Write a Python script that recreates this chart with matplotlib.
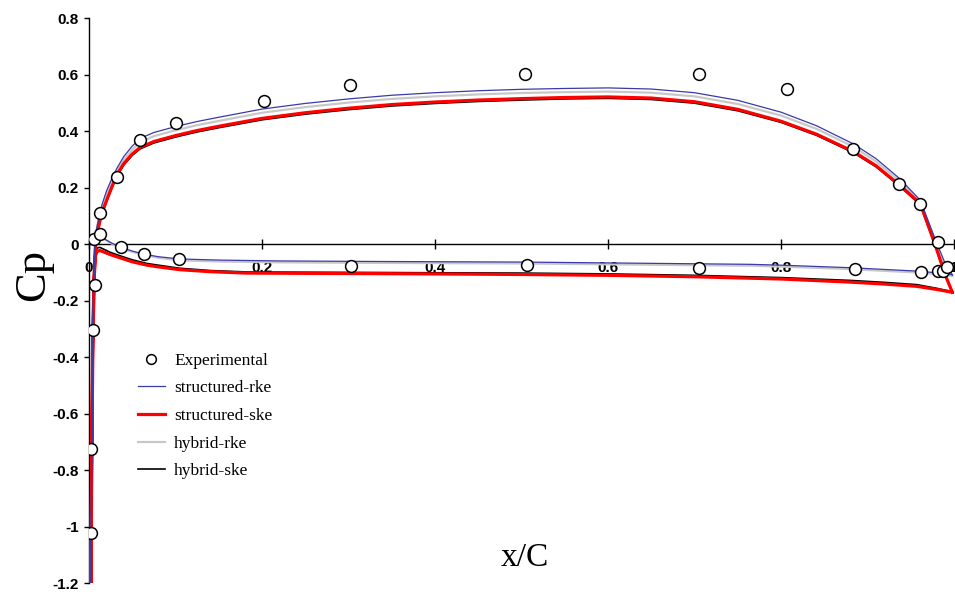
import matplotlib
matplotlib.use("Agg")
import matplotlib.pyplot as plt
from matplotlib.lines import Line2D

# Experimental pressure taps
exp_x = [0.006, 0.0127, 0.0127, 0.032, 0.059, 0.100, 0.202, 0.302, 0.504, 0.705,
         0.807, 0.883, 0.936, 0.961, 0.982,
         0.0366, 0.064, 0.104, 0.3025, 0.506, 0.705, 0.886, 0.962, 0.982, 0.987, 0.992,
         0.0069, 0.0043, 0.0023, 0.0023]
exp_cp = [0.020, 0.035, 0.112, 0.239, 0.369, 0.428, 0.508, 0.566, 0.603, 0.602,
          0.550, 0.338, 0.215, 0.144, 0.008,
          -0.0096, -0.033, -0.052, -0.077, -0.072, -0.083, -0.086, -0.099, -0.096, -0.095, -0.080,
          -0.145, -0.302, -0.724, -1.024]

# lower branch, trailing edge -> leading edge
low_ske_x = [0.998, 0.98, 0.957, 0.92, 0.88, 0.8, 0.7, 0.6, 0.5, 0.4, 0.336, 0.25, 0.182,
             0.14, 0.105, 0.08, 0.067, 0.05, 0.036, 0.025, 0.016, 0.0127, 0.0095, 0.0075,
             0.006, 0.0045, 0.003, 0.002]
low_sske = [-0.17, -0.16, -0.149, -0.141, -0.134, -0.123, -0.115, -0.110, -0.107, -0.105,
            -0.104, -0.103, -0.102, -0.097, -0.090, -0.080, -0.074, -0.062, -0.048, -0.037,
            -0.026, -0.022, -0.025, -0.04, -0.12, -0.35, -0.85, -1.3]
low_hske = [-0.168, -0.156, -0.143, -0.135, -0.128, -0.118, -0.110, -0.105, -0.102, -0.101,
            -0.100, -0.099, -0.098, -0.093, -0.085, -0.074, -0.068, -0.055, -0.041, -0.029,
            -0.016, -0.011, -0.013, -0.03, -0.11, -0.33, -0.85, -1.3]

low_rke_x = [0.998, 0.98, 0.957, 0.88, 0.8, 0.764, 0.6, 0.5, 0.336, 0.22, 0.15, 0.105, 0.08,
             0.064, 0.05, 0.036, 0.027, 0.02, 0.015, 0.012, 0.009, 0.007, 0.0055, 0.004,
             0.003, 0.002]
low_srke = [-0.108, -0.101, -0.095, -0.083, -0.074, -0.071, -0.066, -0.063, -0.061, -0.059,
            -0.056, -0.052, -0.044, -0.035, -0.024, -0.010, 0.003, 0.015, 0.024, 0.030,
            0.027, 0.0, -0.12, -0.45, -0.85, -1.3]
low_hrke = [-0.112, -0.106, -0.1, -0.088, -0.079, -0.076, -0.071, -0.068, -0.066, -0.064,
            -0.061, -0.057, -0.048, -0.038, -0.027, -0.013, 0.001, 0.014, 0.024, 0.032,
            0.030, 0.005, -0.11, -0.42, -0.85, -1.3]

# upper branch, leading edge -> trailing edge
up_x = [0.0028, 0.004, 0.0055, 0.0068, 0.0078, 0.009, 0.0127, 0.016, 0.0204, 0.026,
        0.032, 0.04, 0.05, 0.059, 0.075, 0.1, 0.125, 0.15, 0.2, 0.25,
        0.3, 0.35, 0.4, 0.45, 0.5, 0.55, 0.6, 0.65, 0.7, 0.75,
        0.8, 0.841, 0.884, 0.91, 0.937, 0.961, 0.978, 0.99, 0.998]
up_sske = [-0.85, -0.4, -0.15, -0.04, 0.0, 0.03, 0.085, 0.12, 0.156, 0.20,
           0.245, 0.285, 0.32, 0.343, 0.364, 0.385, 0.403, 0.418, 0.446, 0.466,
           0.482, 0.495, 0.504, 0.511, 0.516, 0.52, 0.522, 0.518, 0.505, 0.478,
           0.436, 0.39, 0.328, 0.278, 0.21, 0.144, 0.0, -0.11, -0.17]
up_srke = [-0.82, -0.36, -0.11, 0.0, 0.035, 0.06, 0.115, 0.15, 0.19, 0.23,
           0.268, 0.31, 0.348, 0.375, 0.396, 0.417, 0.435, 0.45, 0.479, 0.499,
           0.515, 0.528, 0.537, 0.544, 0.549, 0.552, 0.554, 0.55, 0.537, 0.51,
           0.468, 0.42, 0.355, 0.303, 0.233, 0.156, 0.02, -0.07, -0.108]
up_hrke = [-0.83, -0.38, -0.12, -0.01, 0.03, 0.055, 0.107, 0.142, 0.18, 0.22,
           0.257, 0.298, 0.335, 0.362, 0.383, 0.404, 0.422, 0.437, 0.466, 0.486,
           0.502, 0.515, 0.524, 0.531, 0.536, 0.539, 0.541, 0.537, 0.524, 0.497,
           0.456, 0.409, 0.345, 0.293, 0.224, 0.15, 0.01, -0.085, -0.112]
up_hske = [-0.87, -0.42, -0.16, -0.05, -0.005, 0.025, 0.08, 0.115, 0.152, 0.196,
           0.24, 0.28, 0.315, 0.338, 0.359, 0.38, 0.398, 0.413, 0.441, 0.461,
           0.477, 0.49, 0.499, 0.506, 0.511, 0.515, 0.517, 0.513, 0.5, 0.473,
           0.432, 0.386, 0.324, 0.274, 0.206, 0.14, -0.004, -0.112, -0.168]

fig, ax = plt.subplots(figsize=(9.55, 5.92), dpi=100)
fig.subplots_adjust(left=0.0932, right=0.999, bottom=0.0152, top=0.9688)

ax.plot(low_ske_x + up_x, low_hske + up_hske, color="black", lw=1.2, zorder=2)
ax.plot(low_rke_x + up_x, low_hrke + up_hrke, color="#c8c8c8", lw=1.6, zorder=3)
ax.plot(low_ske_x + up_x, low_sske + up_sske, color="#ff0000", lw=2.3, zorder=4)
ax.plot(low_rke_x + up_x, low_srke + up_srke, color="#3a3aa8", lw=0.9, zorder=5)
ax.plot(exp_x, exp_cp, "o", ms=8.5, mfc="white", mec="black", mew=1.1, zorder=6)

ax.set_xlim(0, 1)
ax.set_ylim(-1.2, 0.8)
ax.set_xticks([0, 0.2, 0.4, 0.6, 0.8, 1.0])
ax.set_xticklabels(["0", "0.2", "0.4", "0.6", "0.8", "1"])
ax.set_yticks([-1.2, -1, -0.8, -0.6, -0.4, -0.2, 0, 0.2, 0.4, 0.6, 0.8])
ax.set_yticklabels(["-1.2", "-1", "-0.8", "-0.6", "-0.4", "-0.2", "0", "0.2", "0.4", "0.6", "0.8"])

ax.spines["top"].set_visible(False)
ax.spines["right"].set_visible(False)
ax.spines["bottom"].set_position(("data", 0))
for s in ("left", "bottom"):
    ax.spines[s].set_linewidth(1.0)

ax.tick_params(axis="x", direction="inout", length=6.5, width=1.0, pad=9)
ax.tick_params(axis="y", direction="out", length=3.5, width=1.0, pad=4)
for lab in ax.get_xticklabels() + ax.get_yticklabels():
    lab.set_fontfamily("Liberation Sans")
    lab.set_fontweight("bold")
    lab.set_fontsize(11)

ax.set_xlabel("x/C", fontfamily="Liberation Serif", fontsize=24, va="center")
ax.xaxis.set_label_coords(0.504, 0.044)
ax.set_ylabel("Cp", fontfamily="Liberation Serif", fontsize=32, va="center")
ax.yaxis.set_label_coords(-0.065, 0.546)

handles = [
    Line2D([], [], ls="none", marker="o", ms=7, mfc="white", mec="black", mew=1.1),
    Line2D([], [], color="#3a3aa8", lw=0.9),
    Line2D([], [], color="#ff0000", lw=2.3),
    Line2D([], [], color="#c8c8c8", lw=1.6),
    Line2D([], [], color="black", lw=1.2),
]
labels = ["Experimental", "structured-rke", "structured-ske", "hybrid-rke", "hybrid-ske"]
ax.legend(handles, labels, loc="upper left", bbox_to_anchor=(0.135, 0.419),
          bbox_transform=fig.transFigure, frameon=False, borderpad=0,
          handlelength=1.6, handletextpad=0.5, labelspacing=0.66,
          prop={"family": "Liberation Serif", "size": 12.5})

fig.savefig("out.png", dpi=100)
